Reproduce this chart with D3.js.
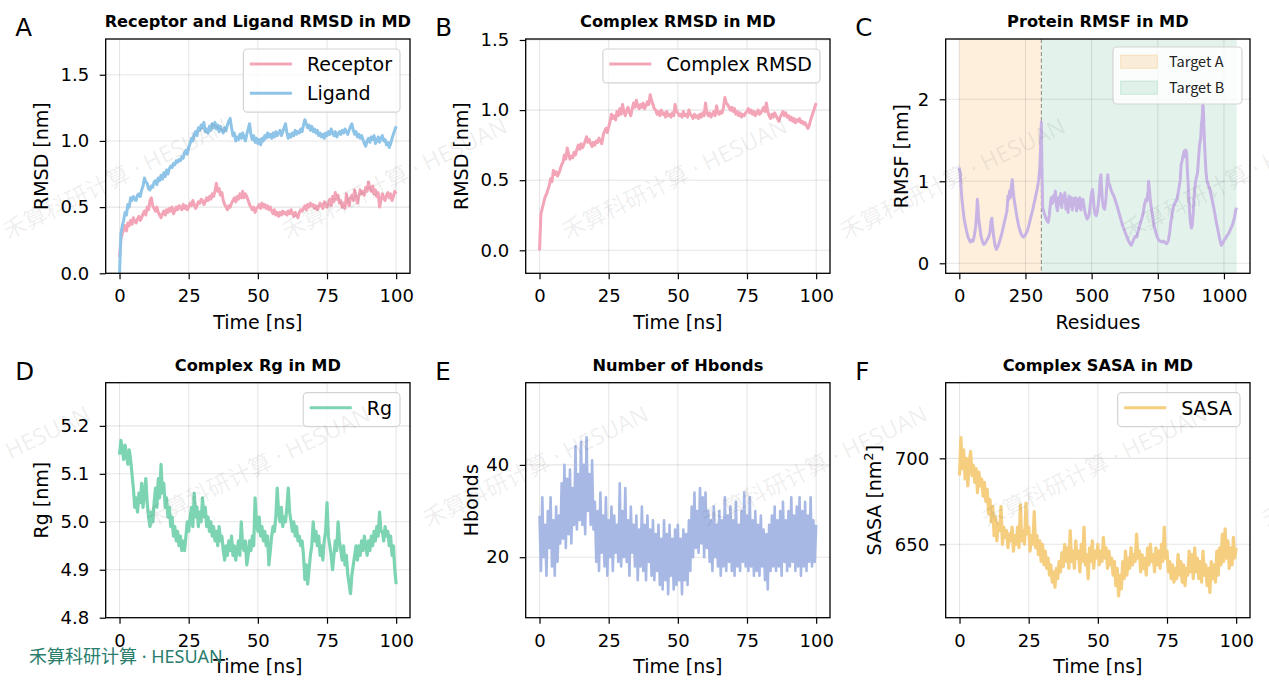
<!DOCTYPE html>
<html><head><meta charset="utf-8">
<script src="https://cdn.jsdelivr.net/npm/d3@7"></script>
<style>body{margin:0;background:#fff}svg{display:block}</style>
</head><body>
<svg id="c" width="1269" height="692"></svg>
<script>
// ---------------- DATA ----------------
const timeStep = 0.5; // ns between stored frames
const timeTicks = [0, 25, 50, 75, 100];

const ligandRMSD = [
0.00,0.30,0.36,0.40,0.46,0.44,0.52,0.50,0.57,0.55,
0.58,0.56,0.55,0.59,0.60,0.58,0.63,0.66,0.72,0.69,
0.68,0.64,0.63,0.66,0.65,0.69,0.70,0.67,0.72,0.70,
0.74,0.71,0.76,0.73,0.78,0.75,0.79,0.81,0.80,0.83,
0.82,0.85,0.84,0.86,0.85,0.88,0.87,0.91,0.93,0.90,
0.95,0.98,1.02,1.00,1.05,1.07,1.04,1.10,1.08,1.12,
1.10,1.14,1.07,1.09,1.06,1.11,1.08,1.13,1.10,1.14,
1.09,1.12,1.07,1.11,1.08,1.06,1.10,1.08,1.12,1.15,
1.17,1.10,1.04,1.06,1.00,1.03,1.01,1.05,1.02,1.06,
1.03,1.00,1.05,1.09,1.13,1.05,1.01,1.04,0.99,1.02,
0.98,1.01,0.97,1.02,1.00,1.04,1.02,1.06,1.03,1.05,
1.02,1.06,1.03,1.07,1.04,1.06,1.08,1.04,1.07,1.10,
1.13,1.06,1.02,1.05,1.03,1.06,1.04,1.08,1.05,1.07,
1.06,1.09,1.07,1.12,1.16,1.13,1.10,1.12,1.08,1.11,
1.07,1.09,1.06,1.08,1.04,1.06,1.03,1.05,1.02,1.06,
1.04,1.07,1.05,1.09,1.06,1.04,1.07,1.03,1.05,1.07,
1.05,1.08,1.06,1.09,1.07,1.05,1.08,1.11,1.13,1.08,
1.05,1.07,1.03,1.05,1.02,1.04,1.01,0.98,0.96,1.00,
1.02,0.99,1.03,1.01,1.04,0.98,1.00,1.03,0.99,1.02,
1.04,1.00,1.01,0.97,0.99,0.95,0.98,1.02,1.05,1.08,
1.11];

const receptorRMSD = [
0.12,0.26,0.30,0.33,0.36,0.32,0.38,0.36,0.40,0.37,
0.42,0.39,0.38,0.41,0.43,0.40,0.42,0.45,0.47,0.44,
0.50,0.48,0.55,0.57,0.51,0.49,0.47,0.50,0.46,0.44,
0.42,0.45,0.47,0.44,0.48,0.46,0.49,0.47,0.50,0.45,
0.47,0.50,0.48,0.51,0.50,0.48,0.52,0.49,0.51,0.48,
0.50,0.53,0.51,0.55,0.52,0.49,0.51,0.54,0.53,0.56,
0.55,0.52,0.54,0.57,0.55,0.58,0.56,0.60,0.58,0.62,
0.68,0.62,0.64,0.59,0.61,0.55,0.52,0.50,0.48,0.51,
0.50,0.53,0.55,0.57,0.54,0.58,0.56,0.60,0.57,0.62,
0.57,0.60,0.58,0.55,0.52,0.50,0.48,0.50,0.46,0.49,
0.50,0.52,0.49,0.53,0.50,0.52,0.49,0.51,0.48,0.50,
0.47,0.45,0.48,0.44,0.46,0.43,0.46,0.44,0.47,0.45,
0.46,0.44,0.47,0.45,0.48,0.45,0.43,0.46,0.44,0.42,
0.46,0.48,0.47,0.49,0.51,0.48,0.52,0.50,0.53,0.51,
0.52,0.49,0.51,0.48,0.50,0.53,0.51,0.49,0.54,0.52,
0.50,0.53,0.56,0.51,0.58,0.54,0.61,0.56,0.59,0.53,
0.55,0.50,0.53,0.49,0.60,0.55,0.51,0.57,0.59,0.55,
0.63,0.57,0.53,0.58,0.63,0.60,0.62,0.59,0.65,0.62,
0.69,0.64,0.62,0.66,0.60,0.63,0.58,0.61,0.50,0.55,
0.60,0.57,0.55,0.59,0.61,0.57,0.60,0.55,0.58,0.62,
0.60];

const complexRMSD = [
0.00,0.26,0.30,0.34,0.38,0.40,0.43,0.46,0.51,0.49,
0.57,0.54,0.56,0.53,0.55,0.58,0.61,0.63,0.68,0.65,
0.73,0.69,0.65,0.67,0.66,0.70,0.68,0.72,0.75,0.72,
0.76,0.73,0.75,0.78,0.81,0.77,0.79,0.76,0.74,0.77,
0.75,0.78,0.77,0.80,0.78,0.76,0.82,0.85,0.87,0.84,
0.88,0.92,0.97,0.94,0.96,0.93,0.99,0.96,1.01,0.97,
1.04,0.99,0.96,1.00,1.02,0.98,0.96,1.01,1.05,1.02,
1.07,1.03,1.01,1.04,1.02,1.05,1.01,1.03,1.06,1.04,
1.11,1.07,1.04,1.01,1.00,0.97,0.99,0.96,1.00,0.97,
0.98,0.95,0.99,0.96,0.97,0.95,0.98,0.96,1.04,0.99,
0.98,0.96,0.97,0.95,0.99,0.96,0.97,0.95,1.00,0.97,
0.96,0.94,0.97,0.95,0.96,0.94,0.97,0.95,0.98,0.96,
1.05,0.98,0.96,0.98,0.95,0.97,0.99,0.96,1.03,0.98,
0.97,0.99,0.98,1.02,1.09,1.05,1.04,1.02,1.00,1.02,
0.99,1.01,0.97,0.99,0.96,0.98,0.95,0.97,0.96,0.98,
0.99,1.01,0.98,1.00,0.97,0.99,0.96,0.98,1.00,0.97,
0.98,1.00,1.02,0.99,1.05,0.99,0.96,0.94,0.97,0.95,
0.98,0.96,0.94,0.92,0.95,0.97,0.99,0.96,0.98,0.95,
0.96,0.93,0.95,0.92,0.94,0.91,0.93,0.92,0.94,0.91,
0.92,0.90,0.91,0.89,0.87,0.89,0.93,0.96,0.99,1.02,
1.05];

const residues = [0,3,6,10,14,18,22,27,32,37,42,47,52,57,62,66,68,70,73,77,82,87,92,97,102,107,112,116,120,123,126,130,135,140,145,150,156,162,168,174,180,184,187,190,193,197,200,203,207,212,218,224,230,236,242,248,255,262,270,278,286,294,300,304,307,310,312,315,320,326,331,336,340,344,347,351,355,359,363,367,371,375,379,383,387,391,395,399,403,407,411,415,419,423,427,431,435,439,443,447,451,455,459,463,467,471,475,479,483,487,491,495,499,503,506,509,513,517,521,525,529,532,535,538,541,545,549,553,557,561,564,568,573,578,584,590,596,603,610,617,624,631,638,645,650,655,660,665,670,675,680,685,690,695,700,705,709,713,715,718,721,725,730,736,742,748,754,760,766,772,778,784,790,795,800,805,810,815,820,825,830,835,838,842,846,850,853,856,859,862,865,868,871,874,877,880,884,888,892,896,900,904,908,912,915,918,920,922,924,926,929,932,936,940,945,950,955,960,965,970,975,980,985,990,995,1000,1005,1010,1015,1020,1025,1030,1035,1040,1044,1047];
const rmsf = [1.17,1.10,0.95,0.78,0.66,0.55,0.48,0.40,0.33,0.29,0.26,0.28,0.27,0.34,0.45,0.62,0.78,0.72,0.55,0.45,0.33,0.27,0.23,0.24,0.27,0.30,0.33,0.38,0.52,0.55,0.44,0.32,0.22,0.17,0.20,0.24,0.31,0.38,0.47,0.55,0.64,0.82,0.78,0.88,0.80,0.95,1.02,0.90,0.78,0.68,0.56,0.46,0.39,0.34,0.32,0.34,0.38,0.45,0.56,0.66,0.78,0.90,1.02,1.15,1.40,1.72,1.20,0.68,0.62,0.56,0.52,0.50,0.58,0.72,0.80,0.73,0.82,0.76,0.88,0.70,0.64,0.80,0.72,0.85,0.68,0.82,0.75,0.86,0.66,0.78,0.62,0.82,0.70,0.80,0.65,0.79,0.71,0.80,0.64,0.78,0.68,0.80,0.65,0.74,0.78,0.70,0.62,0.58,0.54,0.56,0.60,0.72,0.84,0.90,0.82,0.68,0.60,0.58,0.62,0.72,0.85,1.02,1.08,0.90,0.76,0.68,0.66,0.75,0.92,1.08,0.98,0.96,0.90,0.86,0.82,0.76,0.70,0.62,0.54,0.46,0.40,0.34,0.28,0.24,0.22,0.26,0.30,0.33,0.32,0.38,0.44,0.50,0.55,0.62,0.72,0.78,0.76,0.88,1.00,0.92,0.80,0.68,0.58,0.46,0.38,0.32,0.28,0.27,0.26,0.27,0.25,0.24,0.28,0.38,0.52,0.62,0.70,0.74,0.76,0.82,0.92,1.02,1.20,1.25,1.32,1.37,1.30,1.38,1.35,1.12,0.95,0.75,0.58,0.48,0.43,0.46,0.62,0.85,0.98,1.05,1.10,1.28,1.45,1.52,1.70,1.78,1.95,1.90,1.70,1.50,1.30,1.12,1.00,0.96,0.92,0.85,0.78,0.70,0.62,0.52,0.44,0.36,0.28,0.22,0.24,0.28,0.30,0.33,0.35,0.38,0.42,0.45,0.50,0.56,0.64,0.68];
const targetA = [0, 310];
const targetB = [310, 1048];
const residueTicks = [0, 250, 500, 750, 1000];

const rg = [
5.14,5.17,5.15,5.13,5.16,5.14,5.12,5.15,5.13,5.10,
5.07,5.03,5.05,5.02,5.06,5.04,5.08,5.03,5.06,5.09,
5.04,5.01,4.99,5.02,5.00,5.04,5.07,5.03,5.09,5.05,
5.12,5.06,5.08,5.03,5.05,5.01,5.03,4.99,5.01,4.97,
4.99,4.96,4.98,4.95,4.97,4.94,4.96,4.94,4.97,5.00,
4.98,5.01,5.03,4.99,5.06,5.01,5.03,4.99,5.02,5.00,
5.05,5.01,5.03,4.99,5.01,4.98,5.00,4.97,4.99,4.96,
4.98,4.95,4.99,4.96,4.97,4.94,4.92,4.95,4.93,4.96,
4.94,4.97,4.93,4.95,4.92,4.94,4.96,4.93,5.00,4.95,
4.94,4.96,4.91,4.93,4.96,4.94,4.97,4.95,5.05,5.00,
4.98,5.01,4.97,4.99,4.96,4.98,4.95,4.97,4.91,4.94,
4.97,4.99,4.98,5.01,5.07,5.02,5.00,5.03,4.99,5.01,
5.00,5.03,5.07,5.02,5.00,4.98,5.00,4.97,4.99,4.96,
4.97,4.95,4.96,4.93,4.88,4.91,4.87,4.90,4.93,4.95,
5.00,4.96,4.98,4.95,4.97,4.93,4.95,4.92,4.96,4.98,
5.04,4.97,4.95,4.93,4.90,4.93,4.96,4.94,5.00,4.96,
4.94,4.92,4.95,4.91,4.93,4.89,4.87,4.85,4.89,4.91,
4.93,4.95,4.92,4.95,4.93,4.96,4.94,4.97,4.95,4.93,
4.96,4.94,4.97,4.95,4.98,4.96,4.99,4.97,5.02,4.98,
4.98,4.96,4.99,4.97,4.98,4.95,4.97,4.93,4.95,4.90,
4.87];

const hbonds = [
29,17,33,20,27,16,30,22,33,18,
28,16,31,19,29,23,36,24,40,22,
37,25,39,23,35,27,44,26,38,28,
45,27,40,25,46,30,38,27,41,26,
32,19,30,17,34,21,29,18,33,16,
28,20,31,17,29,21,27,19,36,18,
30,20,35,19,28,16,31,21,27,18,
29,15,26,18,31,17,27,15,29,19,
26,16,28,15,25,17,27,14,24,13,
28,15,25,12,27,16,24,13,26,14,
27,15,24,12,26,15,25,14,28,17,
31,20,34,22,30,21,35,23,33,20,
34,22,30,19,28,17,31,20,27,18,
30,16,28,18,33,17,29,19,31,17,
28,16,32,18,27,17,30,19,34,18,
29,17,33,18,28,16,30,17,27,16,
29,18,26,15,25,13,27,17,29,18,
31,17,28,18,30,16,32,19,28,17,
30,18,33,19,29,17,31,18,33,16,
30,18,32,17,29,19,33,18,28,19,
27];

const sasa = [
690,712,694,705,688,700,684,698,704,690,
696,686,694,680,692,684,688,678,686,675,
682,668,676,663,672,655,666,652,662,658,
672,650,660,654,658,648,656,652,660,646,
655,650,660,648,673,652,658,650,674,656,
660,646,655,650,669,648,655,644,652,640,
650,638,646,636,642,632,638,628,634,625,
636,630,640,634,645,637,650,640,648,636,
658,640,646,636,652,642,646,634,650,640,
660,638,644,630,648,640,652,636,646,642,
650,638,646,640,654,642,648,636,646,638,
642,632,640,626,636,620,632,624,640,630,
646,632,642,636,648,638,644,640,656,642,
646,634,644,636,642,632,648,638,650,640,
644,634,648,638,646,636,650,640,660,642,
646,634,640,630,638,628,636,630,644,632,
640,628,638,626,636,632,646,634,644,630,
648,634,642,630,640,628,646,632,638,626,
636,622,640,630,638,628,646,632,648,638,
656,640,659,642,652,636,648,638,654,642,
648];

// ---------------- STYLE ----------------
const C = {
  receptor: '#F3A5B7', ligand: '#8EC4E7', complex: '#F3A5B7', rmsf: '#C7B4E5',
  rg: '#7DD4B2', hbonds: '#A7B8E5', sasa: '#F5CE80',
  tA: '#F9C98A', tB: '#8FD1B5'
};
const FONT = "'DejaVu Sans', sans-serif";
const WMFONT = "'Noto Sans', 'Noto Sans CJK SC', sans-serif";
const svg = d3.select('#c');
const colX = [105.7, 525.7, 945.7], PW = 304.3;
const rowY = [[39, 273.3], [382.7, 617.7]];

function series(arr){ return arr.map((v,i)=>({t:i*timeStep, v})); }

function panel(cfg){
  const x0 = colX[cfg.col], x1 = x0 + PW;
  const [y0, y1] = rowY[cfg.row];
  const x = d3.scaleLinear().domain(cfg.xDomain).range([x0, x1]);
  const y = d3.scaleLinear().domain(cfg.yDomain).range([y1, y0]);
  const g = svg.append('g');
  const cid = 'clip' + cfg.letter;
  svg.append('clipPath').attr('id', cid).append('rect')
    .attr('x', x0).attr('y', y0).attr('width', PW).attr('height', y1 - y0);
  const plot = g.append('g').attr('clip-path', `url(#${cid})`);
  if (cfg.background) cfg.background(plot, x, y, y0, y1);
  plot.selectAll('line.gx').data(cfg.xTicks).join('line').attr('class','gx')
    .attr('x1', d=>x(d)).attr('x2', d=>x(d)).attr('y1', y0).attr('y2', y1)
    .attr('stroke', '#000').attr('stroke-opacity', 0.1).attr('stroke-width', 1.1);
  plot.selectAll('line.gy').data(cfg.yTicks).join('line').attr('class','gy')
    .attr('y1', d=>y(d)).attr('y2', d=>y(d)).attr('x1', x0).attr('x2', x1)
    .attr('stroke', '#000').attr('stroke-opacity', 0.1).attr('stroke-width', 1.1);
  cfg.draw(plot, x, y);
  const ax = g.append('g').attr('transform', `translate(0,${y1})`)
    .call(d3.axisBottom(x).tickValues(cfg.xTicks).tickSize(6).tickPadding(10.3).tickFormat(d3.format('d')));
  const ay = g.append('g').attr('transform', `translate(${x0},0)`)
    .call(d3.axisLeft(y).tickValues(cfg.yTicks).tickSize(6).tickPadding(10.5).tickFormat(cfg.yFmt));
  [ax, ay].forEach(a => {
    a.attr('font-family', FONT).attr('font-size', 18);
    a.select('.domain').remove();
    a.selectAll('line').attr('stroke', '#000').attr('stroke-width', 1.2);
    a.selectAll('text').attr('fill', '#000');
  });
  g.append('rect').attr('x', x0).attr('y', y0).attr('width', PW).attr('height', y1 - y0)
    .attr('fill', 'none').attr('stroke', '#000').attr('stroke-width', 1.3);
  g.append('text').attr('x', (x0 + x1) / 2).attr('y', y0 - 12).attr('text-anchor', 'middle')
    .attr('font-family', FONT).attr('font-weight', 'bold').attr('font-size', 16.2).text(cfg.title);
  g.append('text').attr('x', x0 - 90.5).attr('y', y0 - 3).attr('font-family', FONT)
    .attr('font-size', 24.5).text(cfg.letter);
  g.append('text').attr('x', (x0 + x1) / 2).attr('y', y1 + 55.6).attr('text-anchor', 'middle')
    .attr('font-family', FONT).attr('font-size', 19).text(cfg.xLabel);
  const yl = g.append('text').attr('transform', `translate(${x0 + cfg.yLabelOff},${(y0 + y1) / 2}) rotate(-90)`)
    .attr('text-anchor', 'middle').attr('font-family', FONT).attr('font-size', 19);
  if (cfg.yLabelSup) {
    yl.append('tspan').text(cfg.yLabel);
    yl.append('tspan').attr('font-size', 13).attr('dy', -8).text(cfg.yLabelSup);
    yl.append('tspan').attr('dy', 8).text(cfg.yLabelEnd);
  } else yl.text(cfg.yLabel);
  if (cfg.legend) lineLegend(g, cfg.legend, x1 - 10, y0 + 10);
  return {x, y};
}

function lineLegend(g, items, right, top){
  const lg = g.append('g');
  const texts = items.map((it, i) => lg.append('text').attr('font-family', FONT).attr('font-size', 19)
    .attr('y', top + 15 + i * 29.3).attr('dy', '0.36em').text(it.label));
  const tw = d3.max(texts, t => t.node().getComputedTextLength());
  const w = 63.5 + tw + 8, left = right - w, h = 4.6 + items.length * 29.3;
  lg.insert('rect', 'text').attr('x', left).attr('y', top).attr('width', w).attr('height', h)
    .attr('rx', 4).attr('fill', '#fff').attr('fill-opacity', 0.8).attr('stroke', '#d4d4d4').attr('stroke-width', 1.2);
  texts.forEach(t => t.attr('x', left + 63.5));
  items.forEach((it, i) => lg.append('line').attr('x1', left + 6.5).attr('x2', left + 48.5)
    .attr('y1', top + 15 + i * 29.3).attr('y2', top + 15 + i * 29.3)
    .attr('stroke', it.color).attr('stroke-width', 3));
}

function drawLine(plot, x, y, data, color, w){
  plot.append('path').datum(data).attr('fill', 'none').attr('stroke', color)
    .attr('stroke-width', w).attr('stroke-linejoin', 'round')
    .attr('d', d3.line().x(d => x(d.t)).y(d => y(d.v)));
}

const timeDomain = [-5, 105];

panel({col:0,row:0,letter:'A',title:'Receptor and Ligand RMSD in MD',xLabel:'Time [ns]',yLabel:'RMSD [nm]',yLabelOff:-58.2,
  xDomain:timeDomain,yDomain:[0,1.77],xTicks:timeTicks,yTicks:[0,0.5,1.0,1.5],yFmt:d3.format('.1f'),
  legend:[{label:'Receptor',color:C.receptor},{label:'Ligand',color:C.ligand}],
  draw:(p,x,y)=>{ drawLine(p,x,y,series(receptorRMSD),C.receptor,3); drawLine(p,x,y,series(ligandRMSD),C.ligand,3); }});
panel({col:1,row:0,letter:'B',title:'Complex RMSD in MD',xLabel:'Time [ns]',yLabel:'RMSD [nm]',yLabelOff:-58.2,
  xDomain:timeDomain,yDomain:[-0.164,1.507],xTicks:timeTicks,yTicks:[0,0.5,1.0,1.5],yFmt:d3.format('.1f'),
  legend:[{label:'Complex RMSD',color:C.complex}],
  draw:(p,x,y)=>drawLine(p,x,y,series(complexRMSD),C.complex,3)});
panel({col:2,row:0,letter:'C',title:'Protein RMSF in MD',xLabel:'Residues',yLabel:'RMSF [nm]',yLabelOff:-38.2,
  xDomain:[-51.4,1098.4],yDomain:[-0.122,2.735],xTicks:residueTicks,yTicks:[0,1,2],yFmt:d3.format('d'),
  background:(p,x,y,y0,y1)=>{
    p.append('rect').attr('x',x(targetA[0])).attr('width',x(targetA[1])-x(targetA[0])).attr('y',y0).attr('height',y1-y0)
      .attr('fill',C.tA).attr('fill-opacity',0.3);
    p.append('rect').attr('x',x(targetB[0])).attr('width',x(targetB[1])-x(targetB[0])).attr('y',y0).attr('height',y1-y0)
      .attr('fill',C.tB).attr('fill-opacity',0.25);
  },
  draw:(p,x,y)=>{
    const [yb, yt] = y.range();
    p.append('line').attr('x1',x(targetA[1])).attr('x2',x(targetA[1])).attr('y1',yt).attr('y2',yb)
      .attr('stroke','#888').attr('stroke-width',1).attr('stroke-dasharray','4,2.5');
    p.append('path').datum(residues.map((r,i)=>({t:r,v:rmsf[i]}))).attr('fill','none').attr('stroke',C.rmsf)
      .attr('stroke-width',3).attr('stroke-linejoin','round')
      .attr('d', d3.line().x(d=>x(d.t)).y(d=>y(d.v)));
  }});
(function(){
  const g = svg.append('g');
  const left = 1113, top = 47, w = 129, h = 57;
  g.append('rect').attr('x',left).attr('y',top).attr('width',w).attr('height',h).attr('rx',4)
    .attr('fill','#fff').attr('fill-opacity',0.8).attr('stroke','#d4d4d4').attr('stroke-width',1.2);
  [{label:'Target A',c:C.tA,o:0.3},{label:'Target B',c:C.tB,o:0.25}].forEach((it,i)=>{
    const cy = top + 14.7 + i*26;
    g.append('rect').attr('x',left+7.7).attr('y',cy-6.6).attr('width',36.6).attr('height',13.2)
      .attr('fill',it.c).attr('fill-opacity',it.o).attr('stroke',it.c).attr('stroke-opacity',it.o+0.15);
    g.append('text').attr('x',left+56).attr('y',cy).attr('dy','0.36em')
      .attr('font-family',"'Noto Sans CJK SC', sans-serif").attr('font-size',14.5).attr('fill','#222').text(it.label);
  });
})();
panel({col:0,row:1,letter:'D',title:'Complex Rg in MD',xLabel:'Time [ns]',yLabel:'Rg [nm]',yLabelOff:-58.2,
  xDomain:timeDomain,yDomain:[4.8,5.29],xTicks:timeTicks,yTicks:[4.8,4.9,5.0,5.1,5.2],yFmt:d3.format('.1f'),
  legend:[{label:'Rg',color:C.rg}],
  draw:(p,x,y)=>drawLine(p,x,y,series(rg),C.rg,3.2)});
panel({col:1,row:1,letter:'E',title:'Number of Hbonds',xLabel:'Time [ns]',yLabel:'Hbonds',yLabelOff:-47.4,
  xDomain:timeDomain,yDomain:[6.9,57.8],xTicks:timeTicks,yTicks:[20,40],yFmt:d3.format('d'),
  draw:(p,x,y)=>drawLine(p,x,y,series(hbonds),C.hbonds,2.6)});
panel({col:2,row:1,letter:'F',title:'Complex SASA in MD',xLabel:'Time [ns]',yLabel:'SASA [nm',yLabelSup:'2',yLabelEnd:']',yLabelOff:-64.9,
  xDomain:timeDomain,yDomain:[607.3,744],xTicks:timeTicks,yTicks:[650,700],yFmt:d3.format('d'),
  legend:[{label:'SASA',color:C.sasa}],
  draw:(p,x,y)=>drawLine(p,x,y,series(sasa),C.sasa,3.2)});

// watermarks
const wmText = '禾算科研计算 · HESUAN';
const wmRows = [{y:240, xs:[8,287,567,845,1127]}, {y:528, xs:[-130,150,428,707,987,1267]}];
const wm = svg.append('g').attr('pointer-events','none');
wmRows.forEach(r => r.xs.forEach(xx => wm.append('text')
  .attr('transform', `translate(${xx},${r.y}) rotate(-26)`)
  .attr('font-family', WMFONT).attr('font-size', 23)
  .attr('fill', '#000').attr('fill-opacity', 0.075).text(wmText)));
svg.append('text').attr('x', 29).attr('y', 663).attr('font-family', WMFONT)
  .attr('font-size', 18).attr('fill', '#2A7D6D').text(wmText);
</script>
</body></html>
